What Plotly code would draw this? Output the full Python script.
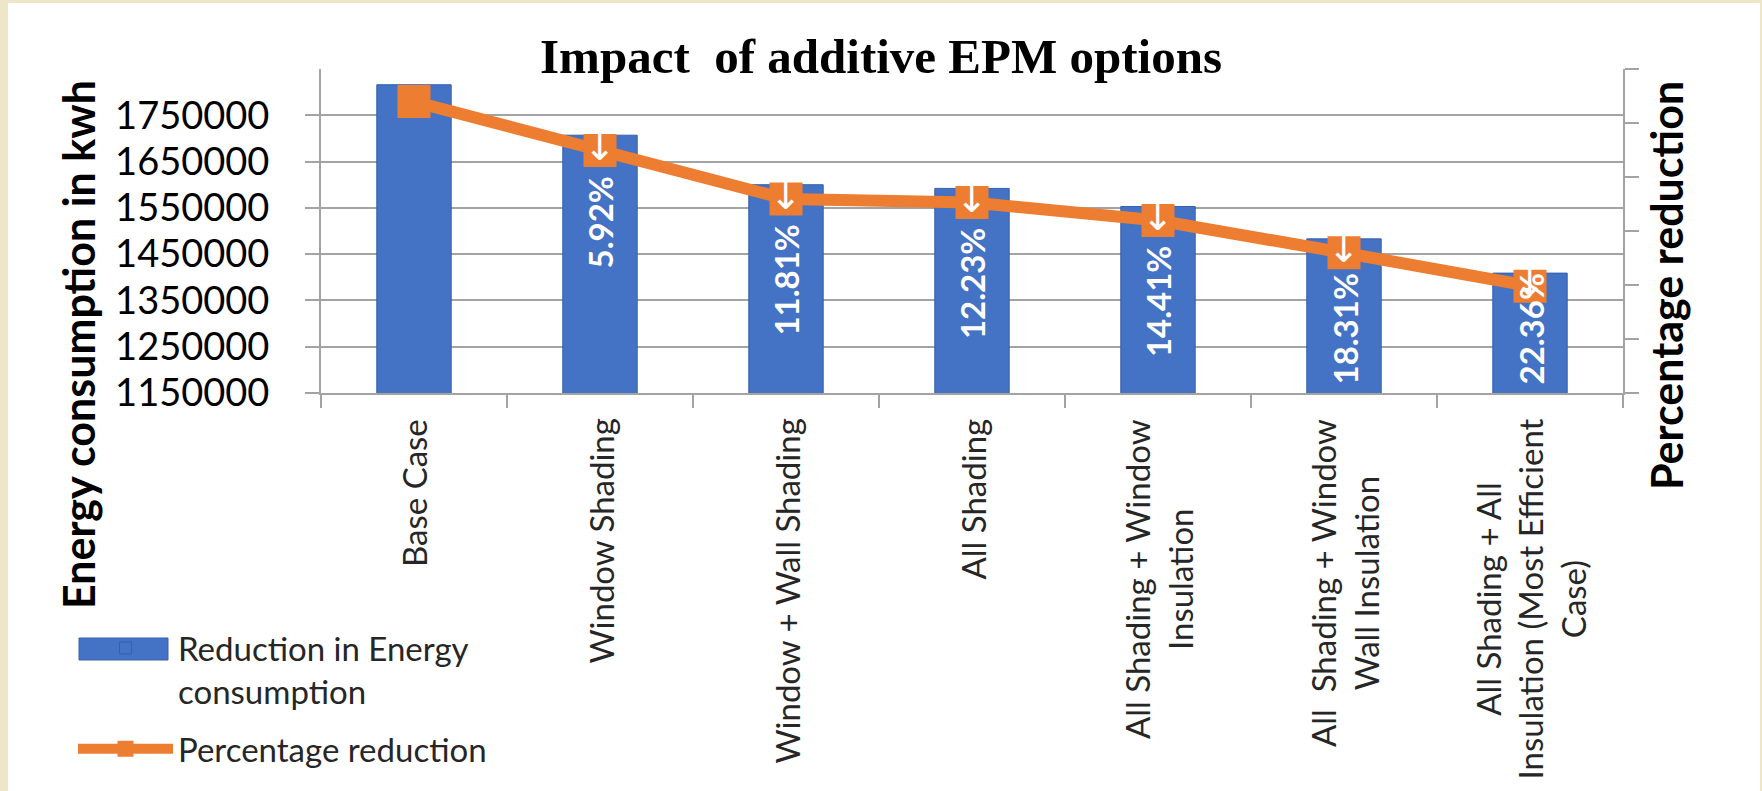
import plotly.graph_objects as go

# ---------------- data ----------------
categories = [
    "Base Case",
    "Window Shading",
    "Window + Wall Shading",
    "All Shading",
    "All Shading + Window<br>Insulation",
    "All  Shading + Window<br>Wall Insulation",
    "All Shading + All<br>Insulation (Most Efficient<br>Case)",
]
energy_kwh = [1816000, 1707000, 1600000, 1592000, 1553000, 1483000, 1409000]
pct_reduction = [0, 5.92, 11.81, 12.23, 14.41, 18.31, 22.36]
y_tick_values = [1150000, 1250000, 1350000, 1450000, 1550000, 1650000, 1750000]

# ---------------- layout constants ----------------
W, H = 1762, 791
L, R, T, B = 321, 139, 69, 398
PLOT_W = W - L - R
PLOT_H = H - T - B
Y_MIN, Y_MAX = 1150000, 1850000
Y2_TOP, Y2_BOTTOM = -3.95, 35.3  # reversed secondary axis
GRID = "#a3a3a3"
BLUE = "#4472C4"
BLUE_EDGE = "#3560AE"
ORANGE = "#ED7D31"
TEXT = "#262626"
FONT = "Lato"


def px_x(p):
    return (p - L) / PLOT_W


def px_y(p):
    return (H - B - p) / PLOT_H


fig = go.Figure()

fig.add_trace(go.Bar(
    x=categories, y=energy_kwh,
    name="Reduction in Energy<br>consumption",
    legendgroup="energy",
    marker=dict(color=BLUE, line=dict(color=BLUE_EDGE, width=1)),
    yaxis="y",
))

fig.add_trace(go.Scatter(
    x=categories, y=pct_reduction,
    name="Percentage reduction",
    legendgroup="pct",
    mode="lines+markers",
    line=dict(color=ORANGE, width=12),
    marker=dict(symbol="square", size=33, color=ORANGE),
    yaxis="y2",
))

# white down arrows drawn on the markers (not on the base case)
idx = [i for i, p in enumerate(pct_reduction) if p > 0]
fig.add_trace(go.Scatter(
    x=[categories[i] for i in idx],
    y=[pct_reduction[i] for i in idx],
    mode="text",
    text=["\u2193"] * len(idx),
    textposition="middle center",
    textfont=dict(color="white", size=38, family="DejaVu Sans"),
    yaxis="y2", showlegend=False, hoverinfo="skip",
))

annotations = []

# percentage data labels (rotated, white, inside the bars)
LABEL_SIZE = 33
for i in idx:
    p = pct_reduction[i]
    label = f"{p:.2f}%"
    marker_px = (p - Y2_TOP) / (Y2_BOTTOM - Y2_TOP) * PLOT_H
    est_len = len(label) * 0.56 * LABEL_SIZE
    common = dict(x=categories[i], xref="x", text=label, textangle=-90,
                  showarrow=False, xanchor="center",
                  font=dict(family=FONT, size=LABEL_SIZE, color="white", weight="bold"))
    if marker_px + 24 + est_len > PLOT_H - 6:
        annotations.append(dict(y=Y_MIN, yref="y", yanchor="bottom", yshift=6, **common))
    else:
        annotations.append(dict(y=p, yref="y2", yanchor="top", yshift=-24, **common))

# category labels (centered multi-line, rotated)
for c in categories:
    annotations.append(dict(
        x=c, xref="x", y=0, yref="paper", yanchor="top", xanchor="center",
        yshift=-24, text=c, textangle=-90, showarrow=False, align="center",
        font=dict(family=FONT, size=33, color=TEXT),
    ))

# axis titles
annotations.append(dict(
    x=px_x(78), y=px_y(345), xref="paper", yref="paper",
    xanchor="center", yanchor="middle", textangle=-90, showarrow=False,
    text="Energy consumption in kwh",
    font=dict(family=FONT, size=43, color="black", weight="bold"),
))
annotations.append(dict(
    x=px_x(1666), y=px_y(286), xref="paper", yref="paper",
    xanchor="center", yanchor="middle", textangle=-90, showarrow=False,
    text="Percentage reduction",
    font=dict(family=FONT, size=43, color="black", weight="bold"),
))

y2_ticks = [round(Y2_TOP + k * (Y2_BOTTOM - Y2_TOP) / 6, 6) for k in range(7)]

shapes = [
    # white slide area on the beige page
    dict(type="rect", xref="paper", yref="paper",
         x0=px_x(8), x1=px_x(1760), y0=px_y(H + 5), y1=px_y(3),
         fillcolor="white", line=dict(width=0), layer="below"),
    # wide legend swatch for the bar series (covers the small native swatch)
    dict(type="rect", xref="paper", yref="paper",
         x0=px_x(79), x1=px_x(168), y0=px_y(660), y1=px_y(638),
         fillcolor=BLUE, line=dict(color=BLUE_EDGE, width=1), layer="above"),
]

fig.update_layout(
    width=W, height=H, autosize=False,
    margin=dict(l=L, r=R, t=T, b=B, pad=0),
    paper_bgcolor="#EEE6C8",
    plot_bgcolor="white",
    bargap=0.6,
    title=dict(
        text="Impact  of additive EPM options",
        x=0.5, xref="container", xanchor="center",
        y=1 - 56 / H, yref="container", yanchor="middle",
        font=dict(family="Liberation Serif", size=49, color="black", weight="bold"),
    ),
    xaxis=dict(
        type="category", showticklabels=False, showgrid=False,
        showline=True, linecolor=GRID, linewidth=2,
        ticks="outside", tickson="boundaries", ticklen=13, tickwidth=2, tickcolor=GRID,
    ),
    yaxis=dict(
        range=[Y_MIN, Y_MAX], tickmode="array", tickvals=y_tick_values,
        ticktext=[str(v) for v in y_tick_values],
        showgrid=True, gridcolor=GRID, gridwidth=2, zeroline=False,
        showline=True, linecolor=GRID, linewidth=2,
        ticks="outside", ticklen=14, tickwidth=2, tickcolor=GRID,
        ticklabelstandoff=28,
        tickfont=dict(family=FONT, size=38, color="black"),
    ),
    yaxis2=dict(
        overlaying="y", side="right", range=[Y2_BOTTOM, Y2_TOP],
        tickmode="array", tickvals=y2_ticks, showticklabels=False,
        showgrid=False, zeroline=False,
        showline=True, linecolor=GRID, linewidth=2,
        ticks="outside", ticklen=14, tickwidth=2, tickcolor=GRID,
    ),
    legend=dict(
        x=px_x(73), xanchor="left", y=px_y(620), yanchor="top",
        font=dict(family=FONT, size=33, color=TEXT),
        itemwidth=95, valign="top", bgcolor="rgba(0,0,0,0)",
        traceorder="grouped", tracegroupgap=12,
    ),
    annotations=annotations,
    shapes=shapes,
    showlegend=True,
)

fig.write_html(
    "out.html",
    config={"displayModeBar": False},
    post_script="document.body.style.margin='0px';",
)
